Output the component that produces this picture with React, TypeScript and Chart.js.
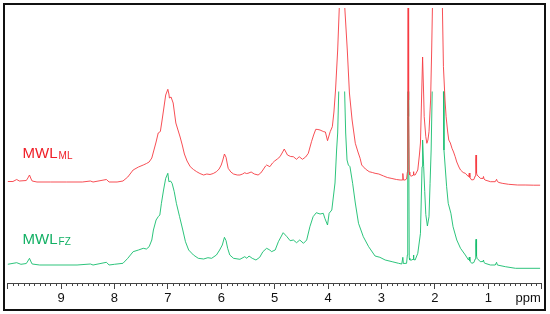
import React, { useEffect, useRef } from "react";
import { Chart, registerables } from "chart.js";

Chart.register(...registerables);

// chemical shift (ppm) and intensity (a.u.)
const redPpm = [10.0, 9.9, 9.83, 9.78, 9.65, 9.62, 9.59, 9.56, 9.54, 9.45, 9.2, 8.9, 8.6, 8.45, 8.4, 8.15, 8.1, 7.95, 7.84, 7.75, 7.65, 7.55, 7.46, 7.4, 7.35, 7.3, 7.27, 7.22, 7.18, 7.14, 7.11, 7.08, 7.04, 7.0, 6.98, 6.97, 6.94, 6.9, 6.85, 6.81, 6.77, 6.73, 6.69, 6.64, 6.58, 6.52, 6.46, 6.4, 6.33, 6.27, 6.21, 6.15, 6.09, 6.04, 6.0, 5.97, 5.94, 5.91, 5.89, 5.87, 5.82, 5.77, 5.7, 5.65, 5.6, 5.56, 5.53, 5.5, 5.44, 5.38, 5.31, 5.26, 5.22, 5.17, 5.15, 5.09, 5.04, 5.0, 4.95, 4.9, 4.85, 4.82, 4.79, 4.76, 4.7, 4.65, 4.59, 4.54, 4.48, 4.42, 4.37, 4.31, 4.27, 4.23, 4.19, 4.15, 4.11, 4.08, 4.05, 4.01, 3.96, 3.92, 3.89, 3.86, 3.82, 3.79, 3.77, 3.74, 3.71, 3.69, 3.64, 3.6, 3.55, 3.49, 3.44, 3.4, 3.37, 3.3, 3.23, 3.17, 3.12, 3.05, 2.96, 2.89, 2.82, 2.72, 2.65, 2.61, 2.6, 2.59, 2.56, 2.53, 2.515, 2.508, 2.5, 2.492, 2.48, 2.47, 2.45, 2.43, 2.405, 2.4, 2.395, 2.37, 2.34, 2.32, 2.29, 2.27, 2.25, 2.23, 2.21, 2.2, 2.17, 2.15, 2.13, 2.11, 2.08, 2.06, 2.045, 2.03, 2.0, 1.96, 1.92, 1.89, 1.87, 1.86, 1.84, 1.81, 1.79, 1.76, 1.74, 1.71, 1.68, 1.65, 1.62, 1.59, 1.55, 1.52, 1.47, 1.43, 1.37, 1.355, 1.345, 1.31, 1.27, 1.245, 1.235, 1.23, 1.225, 1.215, 1.21, 1.15, 1.1, 1.09, 1.08, 1.06, 0.96, 0.87, 0.845, 0.83, 0.8, 0.74, 0.62, 0.45, 0.31, 0.15, 0.03];
const redIntensity = [1.5, 1.5, 3.5, 2, 2.5, 5, 8, 4, 2, 1, 1, 1, 1, 2, 1, 3.5, 1, 1, 2, 6, 13, 16, 18, 19.5, 21, 25, 31, 41, 50, 51.5, 62, 73, 88, 93.7, 89, 85, 86, 80, 60, 53, 46, 38, 29, 22, 16.3, 13.5, 11.3, 9.5, 8, 9, 8.5, 9.5, 11.3, 14, 18, 23, 29, 25.7, 20, 14.7, 11, 9, 8, 8, 9, 10.3, 9.5, 9.7, 11, 9, 8, 10, 13, 17, 18, 16.3, 20, 22, 24, 26.3, 31, 34, 31, 28, 26.5, 26.3, 23.7, 26.3, 23.7, 26, 29.7, 41.3, 48, 53.7, 53.5, 53, 52, 51.3, 51, 42.3, 51.3, 56.3, 71, 93, 133, 175, 243, 333, 243, 178, 133, 90, 63, 39.7, 31, 24.7, 18, 14, 11.3, 10.5, 9.7, 9, 7, 5.5, 4.7, 3.5, 3, 3, 9.5, 3, 3, 4, 11, 83, 483, 83, 11, 8, 7, 7, 8, 11.3, 8, 8, 11, 13, 28, 40, 83, 126, 88, 66.3, 46.3, 39.7, 43, 51.3, 83, 133, 178, 280, 230, 210, 240, 290, 240, 178, 116.3, 83, 66.3, 51, 43, 40, 34.7, 31, 26.3, 21, 16, 13, 10.5, 9.7, 6.3, 10, 5.5, 3, 3.5, 7, 23, 28, 23, 10, 8, 4.7, 4.5, 6.5, 4, 3, 1.3, 1.3, 3.7, 1.5, 0.5, -0.3, -1.3, -2, -2, -2.2, -2.2];

const greenPpm = [10.0, 9.83, 9.75, 9.65, 9.62, 9.59, 9.56, 9.54, 9.4, 9.0, 8.7, 8.45, 8.4, 8.15, 8.1, 8.0, 7.84, 7.75, 7.65, 7.55, 7.46, 7.4, 7.35, 7.3, 7.27, 7.22, 7.18, 7.15, 7.12, 7.08, 7.04, 7.0, 6.98, 6.95, 6.92, 6.88, 6.84, 6.78, 6.72, 6.67, 6.61, 6.52, 6.43, 6.33, 6.25, 6.18, 6.09, 6.03, 5.98, 5.94, 5.91, 5.88, 5.84, 5.77, 5.65, 5.56, 5.52, 5.48, 5.42, 5.35, 5.28, 5.22, 5.15, 5.09, 5.06, 4.99, 4.93, 4.84, 4.77, 4.71, 4.65, 4.59, 4.53, 4.46, 4.4, 4.34, 4.28, 4.22, 4.15, 4.09, 4.06, 4.01, 3.98, 3.93, 3.87, 3.84, 3.82, 3.8, 3.77, 3.74, 3.71, 3.69, 3.67, 3.645, 3.62, 3.59, 3.54, 3.49, 3.43, 3.34, 3.24, 3.12, 3.03, 2.93, 2.8, 2.68, 2.62, 2.6, 2.59, 2.53, 2.515, 2.508, 2.5, 2.492, 2.48, 2.47, 2.43, 2.405, 2.4, 2.395, 2.37, 2.32, 2.27, 2.24, 2.23, 2.21, 2.19, 2.17, 2.14, 2.11, 2.09, 2.07, 2.05, 2.03, 2.0, 1.96, 1.92, 1.89, 1.86, 1.84, 1.83, 1.78, 1.75, 1.7, 1.66, 1.59, 1.52, 1.43, 1.37, 1.355, 1.345, 1.31, 1.27, 1.245, 1.235, 1.23, 1.225, 1.215, 1.21, 1.15, 1.1, 1.09, 1.08, 1.06, 0.96, 0.87, 0.845, 0.83, 0.68, 0.49, 0.03];
const greenIntensity = [2.2, 3.8, 2.2, 3, 5.5, 8.2, 4.5, 2.5, 1.5, 1.5, 1.5, 2.5, 1.5, 4.2, 1.5, 2.2, 3.2, 8.2, 14.8, 16.5, 18.2, 17.5, 19.8, 26.5, 36.5, 46.5, 49.8, 51.5, 63.2, 76.5, 88.2, 93.2, 84.8, 85.5, 83.2, 74.8, 63.2, 49.8, 36.5, 24.8, 16.5, 11.5, 8.2, 7.5, 8.8, 8.2, 11.5, 16.5, 21.5, 29.2, 25.8, 18.2, 11.5, 8.2, 7.2, 9.8, 8.2, 10.5, 8.2, 6.5, 9.2, 14.8, 18.2, 16.5, 14.8, 16.5, 24.8, 33.8, 29.8, 25.8, 26.5, 23.8, 26.5, 23.2, 26.5, 39.8, 49.8, 53.8, 52.5, 53.2, 48.2, 41.5, 53.2, 56.5, 83.5, 116.5, 133.5, 175.5, 243, 333, 243, 175.5, 133.5, 106.5, 101.5, 99.8, 83.2, 63.5, 43.2, 29.8, 19.8, 10.5, 9.2, 6.5, 4.8, 3.2, 2.5, 9.2, 3, 3.2, 11.5, 150, 483, 150, 8.5, 6.5, 6.5, 7.5, 11.5, 7, 6.5, 13.2, 33.2, 99.8, 126.5, 100, 75, 52, 40.5, 49.8, 83.2, 116.5, 175.5, 280, 230, 210, 240, 290, 240, 175.5, 116.5, 79.8, 63.2, 53.2, 39.8, 26.5, 18.2, 11.5, 6.5, 9.5, 5.5, 3.2, 4, 7.5, 21.5, 27.2, 21.5, 10.5, 8.2, 4.8, 5, 6.5, 4, 3.2, 1.5, 1.5, 4.2, 1.5, -0.2, -1.8, -1.8];

const tickValues = [9, 8, 7, 6, 5, 4, 3, 2, 1];
const axisUnit = "ppm";
const seriesNames = [
  { main: "MWL", sub: "ML" },
  { main: "MWL", sub: "FZ" },
];

const RED = "rgba(246, 60, 66, 0.9)";
const GREEN = "rgba(22, 190, 110, 0.9)";
const RED_TEXT = "#f01d26";
const GREEN_TEXT = "#12b064";
const FONT = "'Liberation Sans', Arial, sans-serif";

export default function App() {
  const ref = useRef<HTMLCanvasElement | null>(null);

  useEffect(() => {
    const canvas = ref.current;
    if (!canvas) return;

    const decorations = {
      id: "decorations",
      afterDraw(chart: any) {
        const ctx = chart.ctx as CanvasRenderingContext2D;
        const xs = chart.scales.x;
        const yR = chart.scales.yR;
        const yG = chart.scales.yG;
        ctx.save();
        // minor ticks every 0.1 ppm
        ctx.strokeStyle = "#444";
        ctx.lineWidth = 1;
        ctx.beginPath();
        for (let i = 0; i <= 100; i++) {
          if (i % 10 === 0) continue;
          const px = Math.round(xs.getPixelForValue(i / 10)) + 0.5;
          ctx.moveTo(px, xs.top);
          ctx.lineTo(px, xs.top + 3);
        }
        ctx.stroke();
        // unit label
        ctx.fillStyle = "#111";
        ctx.font = `13px ${FONT}`;
        ctx.textBaseline = "middle";
        ctx.textAlign = "left";
        ctx.fillText(axisUnit, xs.getPixelForValue(0.49), xs.top + 6 + 2 + 7.8);
        // series labels
        const drawLabel = (name: { main: string; sub: string }, color: string, y: number) => {
          const x = xs.getPixelForValue(9.72);
          ctx.fillStyle = color;
          ctx.textBaseline = "alphabetic";
          ctx.font = `15px ${FONT}`;
          ctx.fillText(name.main, x, y);
          const w = ctx.measureText(name.main).width;
          ctx.font = `10px ${FONT}`;
          ctx.fillText(name.sub, x + w + 1, y + 1);
        };
        drawLabel(seriesNames[0], RED_TEXT, yR.getPixelForValue(24.7));
        drawLabel(seriesNames[1], GREEN_TEXT, yG.getPixelForValue(22.5));
        // frame
        ctx.strokeStyle = "#111";
        ctx.lineWidth = 2;
        ctx.strokeRect(4, 4, 541, 306);
        ctx.restore();
      },
    };

    const chart = new Chart(canvas, {
      type: "line",
      data: {
        datasets: [
          {
            label: "MWL_ML",
            data: redPpm.map((x, i) => ({ x, y: redIntensity[i] })),
            yAxisID: "yR",
            borderColor: RED,
            borderWidth: 1,
            pointRadius: 0,
            tension: 0,
            clip: { left: 0, top: 0, right: 0, bottom: 0 },
          },
          {
            label: "MWL_FZ",
            data: greenPpm.map((x, i) => ({ x, y: greenIntensity[i] })),
            yAxisID: "yG",
            borderColor: GREEN,
            borderWidth: 1,
            pointRadius: 0,
            tension: 0,
            clip: { left: 0, top: -83.5, right: 0, bottom: 0 },
          },
        ],
      },
      options: {
        animation: false,
        responsive: false,
        events: [],
        layout: { padding: { left: 7.6, right: 8.3, top: 8, bottom: 0 } },
        plugins: { legend: { display: false }, tooltip: { enabled: false } },
        scales: {
          x: {
            type: "linear",
            min: 0,
            max: 10,
            reverse: true,
            position: "bottom",
            grid: { drawOnChartArea: false, drawTicks: true, tickLength: 6, color: "#444" },
            border: { display: true, color: "#444", width: 1 },
            ticks: {
              stepSize: 1,
              autoSkip: false,
              maxRotation: 0,
              padding: 2,
              color: "#111",
              font: { family: FONT, size: 13 },
              callback: (v: any) => {
                const n = Math.round(Number(v));
                return tickValues.includes(n) && Math.abs(Number(v) - n) < 1e-6 ? String(n) : "";
              },
            },
            afterFit: (s: any) => {
              s.height = 31;
            },
          },
          yR: { display: false, min: -100, max: 175 },
          yG: { display: false, min: -16.5, max: 258.5 },
        },
      },
      plugins: [decorations],
    } as any);

    return () => chart.destroy();
  }, []);

  return (
    <div style={{ position: "absolute", left: 0, top: 0, width: 550, height: 314, background: "#fff" }}>
      <canvas ref={ref} width={550} height={314} style={{ display: "block" }} />
    </div>
  );
}
